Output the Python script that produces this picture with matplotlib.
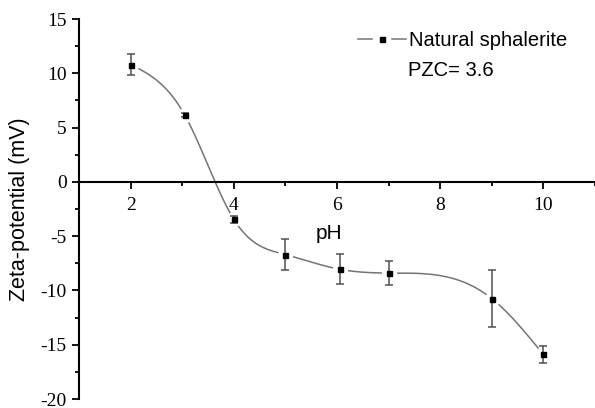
import numpy as np
import matplotlib
matplotlib.use("Agg")
import matplotlib.pyplot as plt
from matplotlib.ticker import MultipleLocator
from matplotlib.legend_handler import HandlerBase
from matplotlib.lines import Line2D

plt.rcParams['axes.unicode_minus'] = False

ph = [2, 3.05, 4, 5, 6.05, 7, 9, 10]
zeta = [10.8, 6.15, -3.45, -6.7, -8.05, -8.4, -10.75, -15.9]
zeta_err = [0.95, 0.15, 0.3, 1.45, 1.4, 1.1, 2.6, 0.8]
series_label = "Natural sphalerite"
note_text = "PZC= 3.6"
x_ticks = [2, 4, 6, 8, 10]
y_ticks = [-20, -15, -10, -5, 0, 5, 10, 15]


def natural_spline(x, y, xs):
    x = np.asarray(x, float); y = np.asarray(y, float)
    n = len(x)
    h = np.diff(x)
    A = np.zeros((n, n)); b = np.zeros(n)
    A[0, 0] = 1; A[-1, -1] = 1
    for i in range(1, n - 1):
        A[i, i - 1] = h[i - 1]
        A[i, i] = 2 * (h[i - 1] + h[i])
        A[i, i + 1] = h[i]
        b[i] = 3 * ((y[i + 1] - y[i]) / h[i] - (y[i] - y[i - 1]) / h[i - 1])
    c = np.linalg.solve(A, b)
    bb = np.zeros(n - 1); d = np.zeros(n - 1)
    for i in range(n - 1):
        bb[i] = (y[i + 1] - y[i]) / h[i] - h[i] * (2 * c[i] + c[i + 1]) / 3
        d[i] = (c[i + 1] - c[i]) / (3 * h[i])
    idx = np.clip(np.searchsorted(x, xs) - 1, 0, n - 2)
    dx = xs - x[idx]
    return y[idx] + bb[idx] * dx + c[idx] * dx ** 2 + d[idx] * dx ** 3


line_color = '#747474'


class GapLineHandler(HandlerBase):
    def create_artists(self, legend, orig_handle, xdescent, ydescent,
                       width, height, fontsize, trans):
        y = height / 2 - ydescent
        x0 = -xdescent
        x1 = x0 + width
        xc = (x0 + x1) / 2
        g = 0.21 * width
        l1 = Line2D([x0, xc - g], [y, y], color=line_color, lw=1.1)
        l2 = Line2D([xc + g, x1], [y, y], color=line_color, lw=1.1)
        m = Line2D([xc], [y], ls='none', marker='s', ms=3.6, mfc='black', mec='black')
        for a in (l1, l2, m):
            a.set_transform(trans)
        return [l1, l2, m]


fig = plt.figure(figsize=(5.95, 4.08), dpi=100)
ax = fig.add_axes([79 / 595, 9 / 408, 516 / 595, 380 / 408])

xs = np.linspace(ph[0], ph[-1], 400)
ax.plot(xs, natural_spline(ph, zeta, xs), color=line_color, lw=1.1, zorder=1)
# gap around symbols
ax.plot(ph, zeta, ls='none', marker='o', ms=10, mfc='white', mec='white', zorder=2)
ax.errorbar(ph, zeta, yerr=zeta_err, fmt='none', ecolor='#505050', elinewidth=1.1,
            capsize=3, capthick=1.1, zorder=3)
ax.plot(ph, zeta, ls='none', marker='s', ms=3.6, mfc='black', mec='black', zorder=4)

ax.set_xlim(1, 11)
ax.set_ylim(-20, 15)
ax.spines['right'].set_visible(False)
ax.spines['top'].set_visible(False)
ax.spines['bottom'].set_position(('data', 0))
for s in ('left', 'bottom'):
    ax.spines[s].set_linewidth(1.5)
ax.set_xticks(x_ticks)
ax.set_yticks(y_ticks)
ax.xaxis.set_minor_locator(MultipleLocator(1))
ax.yaxis.set_minor_locator(MultipleLocator(2.5))
ax.tick_params(which='major', length=5, width=1.3, direction='out')
ax.tick_params(which='minor', length=3, width=1.3, direction='out')
ax.tick_params(axis='both', labelsize=14)
ax.tick_params(axis='x', pad=6)
ax.tick_params(axis='y', pad=4)
for lab in ax.get_xticklabels() + ax.get_yticklabels():
    lab.set_fontfamily('Liberation Serif')

ax.set_ylabel("Zeta-potential (mV)", fontsize=15.5, family='Liberation Sans')
ax.yaxis.set_label_coords((30 - 79) / 516, 0.5)
ax.text(5.84, -4.76, "pH", fontsize=15, family='Liberation Sans', ha='center', va='center')

handle = Line2D([], [], color=line_color, marker='s')
leg = ax.legend([handle], [series_label],
                handler_map={handle: GapLineHandler()},
                loc='center left', bbox_to_anchor=(358 / 595, 1 - 41 / 408),
                bbox_transform=fig.transFigure, frameon=False, borderpad=0,
                borderaxespad=0, handlelength=2.4, handletextpad=0.15,
                prop={'family': 'Liberation Sans', 'size': 14.5})
fig.text(408 / 595, 1 - 70 / 408, note_text, fontsize=14.5, family='Liberation Sans',
         ha='left', va='center')

fig.savefig("out.png", dpi=100)
